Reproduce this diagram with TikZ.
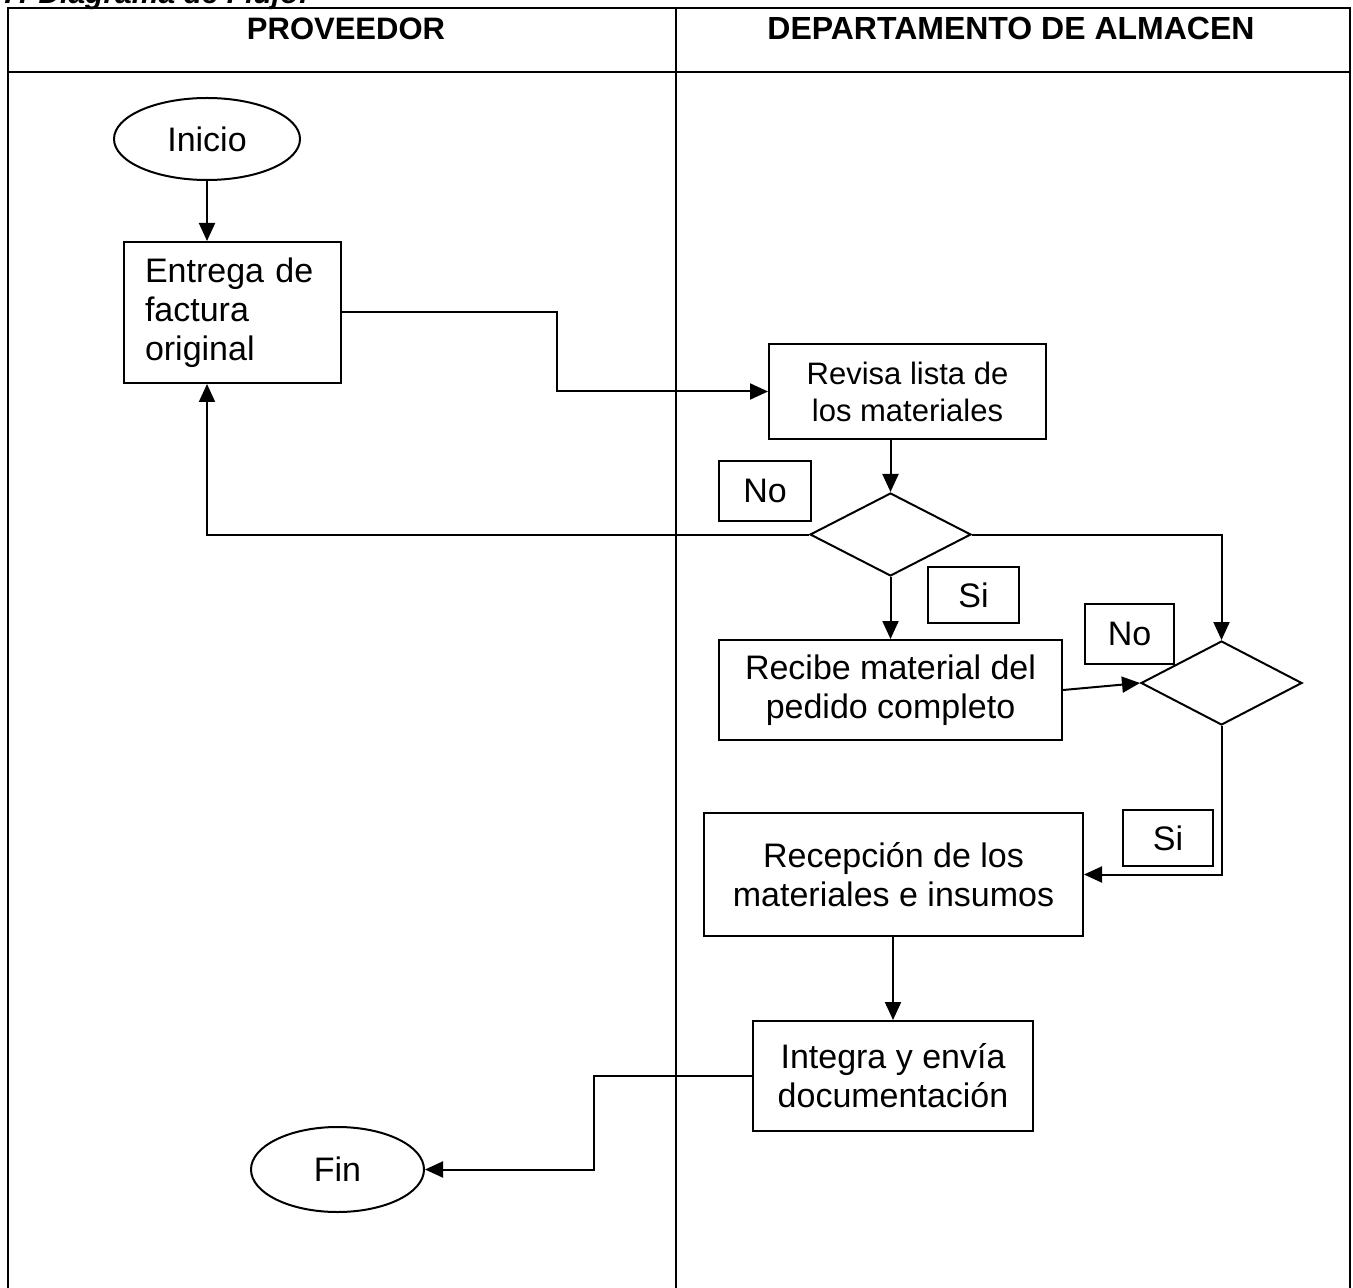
\documentclass[tikz,border=0pt]{standalone}
\usepackage{fontspec}
\setmainfont{Liberation Sans}
\usetikzlibrary{positioning,shapes.geometric,arrows.meta}

\begin{document}
\begin{tikzpicture}[x=0.5pt,y=-0.5pt,
  txt/.style={font=\fontsize{17}{19.5}\selectfont},
  proc/.style={draw,line width=1pt,rectangle,inner sep=0pt,align=center,txt},
  term/.style={draw,line width=1pt,ellipse,inner sep=0pt,txt},
  decision/.style={draw,line width=1pt,diamond,inner sep=0pt},
  tag/.style={draw,line width=1pt,rectangle,inner sep=0pt,txt},
  flow/.style={line width=1pt,-{Triangle[length=9pt,width=8pt]}},
  line/.style={line width=1pt}]
  \useasboundingbox (0,0) rectangle (1353,1288);

  % --- Title and lanes ---
  \node (title) [anchor=base west,inner sep=0pt,font=\fontsize{15}{18}\selectfont\bfseries\itshape] at (2,4) {7. Diagrama de Flujo:};
  \draw[line] (8,8) rectangle (1350,1300);
  \draw[line] (8,72) -- (1350,72);
  \draw[line width=0.6pt] (676,8) -- (676,1300);
  \node (prov) [anchor=base,inner sep=0pt,font=\fontsize{15.5}{18}\selectfont\bfseries] at (346,40) {PROVEEDOR};
  \node (alm) [anchor=base,inner sep=0pt,font=\fontsize{16}{18}\selectfont\bfseries] at (1011,40) {DEPARTAMENTO DE ALMACEN};

  % --- Nodes ---
  \node (inicio) [term,minimum width=93pt,minimum height=41pt] at (207,139) {Inicio};
  \node (entrega) [proc,align=left,text width=87.5pt,inner xsep=10.5pt,minimum height=70.5pt] at (232.5,312.5) {Entrega de\\factura\\original};
  \node (revisa) [proc,minimum width=138.5pt,minimum height=47.5pt,font=\fontsize{15.5}{18.5}\selectfont] at (907.5,391.5) {Revisa lista de\\los materiales};
  \node (dec1) [decision,minimum width=80.5pt,minimum height=41.5pt] at (890.5,534.5) {};
  \node (recibe) [proc,minimum width=171.5pt,minimum height=50pt] at (890.5,690) {Recibe material del\\pedido completo};
  \node (dec2) [decision,minimum width=80.5pt,minimum height=42pt] at (1221.5,683) {};
  \node (recep) [proc,minimum width=189.5pt,minimum height=61.5pt] at (893.5,874.5) {Recepción de los\\materiales e insumos};
  \node (integra) [proc,minimum width=140pt,minimum height=55pt] at (893,1076) {Integra y envía\\documentación};
  \node (fin) [term,minimum width=86.5pt,minimum height=42.5pt] at (337.5,1169.5) {Fin};

  % --- Answer tags ---
  \node (no1) [tag,minimum width=46pt,minimum height=30pt] at (765,491) {No};
  \node (si1) [tag,minimum width=45.5pt,minimum height=28pt] at (973.5,595) {Si};
  \node (no2) [tag,minimum width=44.5pt,minimum height=30pt] at (1129.5,634) {No};
  \node (si2) [tag,minimum width=45pt,minimum height=28pt] at (1168,838) {Si};

  % --- Bend points ---
  \coordinate (bendA) at (557,0);
  \coordinate (bendB) at (594,0);

  % --- Path edges ---
  \draw[flow] (inicio.south) -- (inicio.south |- entrega.north);
  \draw[flow] (entrega.east) -| (bendA |- revisa.west) -- (revisa.west);
  \draw[flow] (revisa.south -| dec1.north) -- (dec1.north);
  \draw[flow] (dec1.west) -| (inicio.south |- entrega.south);
  \draw[flow] (dec1.east) -| (dec2.north);
  \draw[flow] (dec1.south) -- (dec1.south |- recibe.north);
  \draw[flow] (recibe.east) -- (dec2.west);
  \draw[flow] (dec2.south) |- (recep.east);
  \draw[flow] (integra.north |- recep.south) -- (integra.north);
  \draw[flow] (integra.west) -| (bendB |- fin.east) -- (fin.east);
\end{tikzpicture}
\end{document}
